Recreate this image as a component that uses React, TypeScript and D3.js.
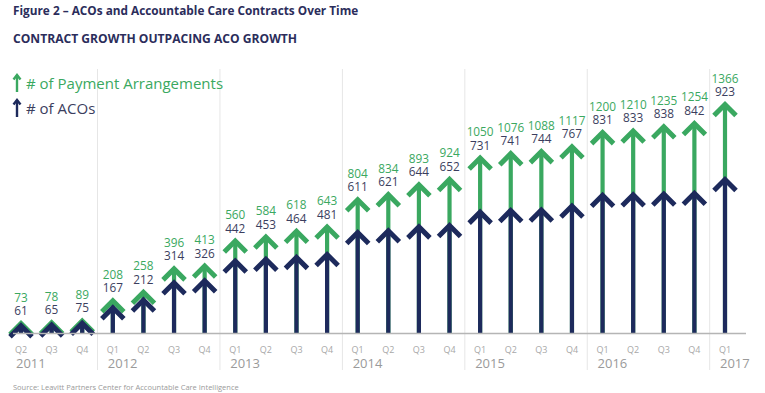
import React from "react";
import * as d3 from "d3";

const quarters = ["Q2","Q3","Q4","Q1","Q2","Q3","Q4","Q1","Q2","Q3","Q4","Q1","Q2","Q3","Q4","Q1","Q2","Q3","Q4","Q1","Q2","Q3","Q4","Q1"];
const years = ["2011","2011","2011","2012","2012","2012","2012","2013","2013","2013","2013","2014","2014","2014","2014","2015","2015","2015","2015","2016","2016","2016","2016","2017"];
const payments = [73,78,89,208,258,396,413,560,584,618,643,804,834,893,924,1050,1076,1088,1117,1200,1210,1235,1254,1366];
const acos = [61,65,75,167,212,314,326,442,453,464,481,611,621,644,652,731,741,744,767,831,833,838,842,923];

const GREEN = "#3aa860";
const NAVY = "#1d2a5c";
const NAVY_TEXT = "#3b3e5e";
const FONT = "'Open Sans', 'Noto Sans', sans-serif";

const W = 765, H = 393;
const BASE = 333;

function Arrow({ x, yTip, color }: { x: number; yTip: number; color: string }) {
  const hw = 11, hh = 11, sw = 4.2;
  const apex = yTip + 3;
  return (
    <g>
      <line x1={x} x2={x} y1={BASE} y2={apex} stroke={color} strokeWidth={sw} />
      <polyline points={`${x - hw},${apex + hh} ${x},${apex} ${x + hw},${apex + hh}`} fill="none" stroke={color} strokeWidth={sw + 0.8} strokeLinejoin="miter" />
    </g>
  );
}

export default function App() {
  const ids = quarters.map((_, i) => String(i));
  const x = d3.scalePoint<string>().domain(ids).range([21, 725]);
  const y = d3.scaleLinear().domain([0, 1366]).range([BASE, 101.5]);
  const step = x.step();
  const yearStarts: { i: number; year: string }[] = [];
  years.forEach((yr, i) => { if (i === 0 || years[i - 1] !== yr) yearStarts.push({ i, year: yr }); });
  const separators = yearStarts.filter(d => d.i > 0).map(d => x(String(d.i))! - step / 2);

  return (
    <svg width={W} height={H} style={{ position: "absolute", left: 0, top: 0, background: "#fff" }} fontFamily={FONT}>
      <text x={13} y={15} fontSize={11.8} fontWeight={700} fill="#2b2d5b">Figure 2 – ACOs and Accountable Care Contracts Over Time</text>
      <text x={13} y={43} fontSize={12.1} fontWeight={700} fill="#2b2d5b">CONTRACT GROWTH OUTPACING ACO GROWTH</text>

      {separators.map((sx, k) => (
        <line key={k} x1={sx} x2={sx} y1={69} y2={370} stroke="#e6e6e6" strokeWidth={1} />
      ))}

      {/* legend */}
      <g>
        <line x1={17} x2={17} y1={92} y2={75} stroke={GREEN} strokeWidth={2.4} />
        <polyline points="13.5,79.5 17,75 20.5,79.5" fill="none" stroke={GREEN} strokeWidth={2.4} />
        <text x={26} y={89} fontSize={15} fill={GREEN}>
          # of Payment Arrangements
        </text>
        <line x1={17} x2={17} y1={117} y2={100} stroke={NAVY} strokeWidth={2.4} />
        <polyline points="13.5,104.5 17,100 20.5,104.5" fill="none" stroke={NAVY} strokeWidth={2.4} />
        <text x={26} y={114} fontSize={15} fill={NAVY_TEXT}>
          # of ACOs
        </text>
      </g>

      {payments.map((v, i) => (
        <Arrow key={"g" + i} x={x(String(i))!} yTip={y(v)} color={GREEN} />
      ))}
      {acos.map((v, i) => (
        <Arrow key={"n" + i} x={x(String(i))!} yTip={y(v)} color={NAVY} />
      ))}

      <line x1={13} x2={746} y1={BASE + 0.5} y2={BASE + 0.5} stroke="#b5b5b5" strokeWidth={1.6} />

      {payments.map((v, i) => (
        <text key={"pl" + i} x={x(String(i))!} y={y(v) - 19} fontSize={11.8} textAnchor="middle" fill={GREEN}>{v}</text>
      ))}
      {acos.map((v, i) => (
        <text key={"al" + i} x={x(String(i))!} y={y(payments[i]) - 5.5} fontSize={11.8} textAnchor="middle" fill={NAVY_TEXT}>{v}</text>
      ))}

      {quarters.map((q, i) => (
        <text key={"q" + i} x={x(String(i))!} y={353} fontSize={9} textAnchor="middle" fill="#a8a8a8">{q}</text>
      ))}
      {yearStarts.map(d => (
        <text key={"y" + d.year} x={x(String(d.i))! - 5} y={368} fontSize={13} fill="#9a9a9a">{d.year}</text>
      ))}

      <text x={13} y={390} fontSize={7.5} fill="#9a9a9a">Source: Leavitt Partners Center for Accountable Care Intelligence</text>
    </svg>
  );
}
